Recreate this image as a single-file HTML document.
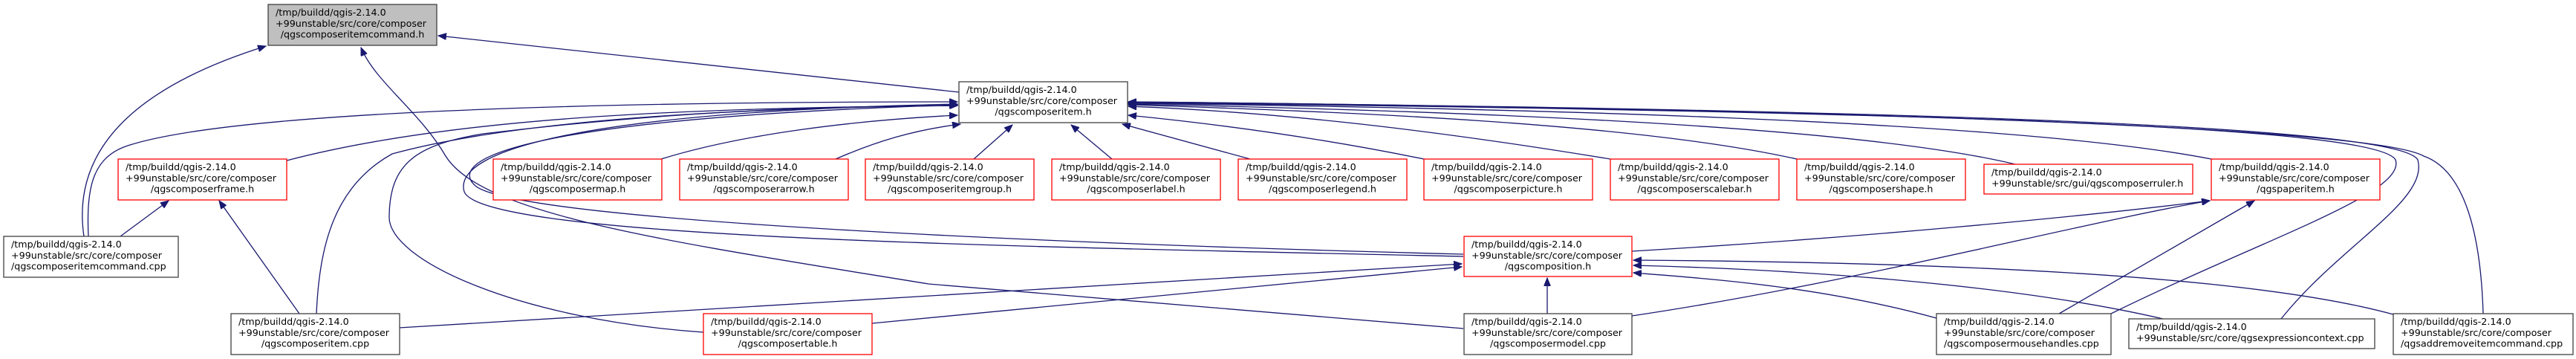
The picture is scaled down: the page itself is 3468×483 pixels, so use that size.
<!DOCTYPE html>
<html><head><meta charset="utf-8"><style>
html,body{margin:0;padding:0;background:#fff;}
svg{display:block;}
text{font-family:"DejaVu Sans","Liberation Sans",sans-serif;font-size:12.7px;fill:#000;}
.e{fill:none;stroke:#191970;stroke-width:1.3;marker-end:url(#a);}
.nb{fill:#fff;stroke:#404040;stroke-width:1.3;}
.nr{fill:#fff;stroke:#ff0000;stroke-width:1.3;}
.ng{fill:#bfbfbf;stroke:#404040;stroke-width:1.3;}
</style></head><body>
<svg width="3468" height="483" viewBox="0 0 3468 483" xmlns="http://www.w3.org/2000/svg">
<defs><marker id="a" markerUnits="userSpaceOnUse" markerWidth="12" markerHeight="9" refX="11" refY="4.5" orient="auto"><path d="M0,0 L11,4.5 L0,9 z" fill="#191970" stroke="#191970"/></marker></defs>

<!-- edges -->
<path class="e" d="M113,318 C100,230 140,130 358,62"/>
<path class="e" d="M1291,124 L590,48"/>
<path class="e" d="M1970,442 L1250,382 C900,325 650,290 600,210 C565,150 505,110 486,64"/>
<path class="e" d="M119,318 C116,250 125,210 175,195 C320,150 800,137 1289,137"/>
<path class="e" d="M386,216 C600,160 900,145 1289,142"/>
<path class="e" d="M890,214 C1000,180 1150,162 1289,155"/>
<path class="e" d="M1125,214 C1180,190 1230,175 1293,167"/>
<path class="e" d="M426,422 C430,330 450,250 528,207 C700,160 1000,145 1289,142"/>
<path class="e" d="M947,447 C700,430 520,350 524,290 C525,220 560,195 650,180 C900,150 1100,143 1289,142"/>
<path class="e" d="M1970,342 C1500,330 700,300 640,250 C600,215 700,160 1289,141"/>
<path class="e" d="M1970,345 C1400,332 650,322 625,258 C608,200 800,150 1289,140"/>
<path class="e" d="M1311,214 L1363,168"/>
<path class="e" d="M1497,214 L1442,168"/>
<path class="e" d="M1683,214 L1511,167"/>
<path class="e" d="M1917,214 C1750,180 1600,163 1519,155"/>
<path class="e" d="M2168,214 C1900,170 1700,150 1519,143"/>
<path class="e" d="M2419,214 C2200,165 1800,150 1519,141"/>
<path class="e" d="M2713,221 C2500,170 2000,150 1519,140"/>
<path class="e" d="M2977,214 C2700,160 2000,145 1519,139"/>
<path class="e" d="M2842,422 C3050,320 3240,260 3225,215 C3200,170 2600,150 1519,138"/>
<path class="e" d="M3071,429 C3150,330 3270,270 3255,215 C3230,170 2600,148 1519,137"/>
<path class="e" d="M3343,422 C3340,320 3320,230 3263,210 C3200,175 2600,148 1519,137"/>
<path class="e" d="M537,441 L1968,355"/>
<path class="e" d="M1174,435 L1968,359"/>
<path class="e" d="M2083,422 L2083,374"/>
<path class="e" d="M2607,428 C2450,385 2300,375 2199,367"/>
<path class="e" d="M2912,429 C2700,380 2400,362 2199,357"/>
<path class="e" d="M3222,423 C3000,362 2500,352 2199,350"/>
<path class="e" d="M2197,338 C2500,320 2800,292 2975,270"/>
<path class="e" d="M2197,425 C2500,380 2800,300 2975,270"/>
<path class="e" d="M2772,422 L3035,270"/>
<path class="e" d="M162,318 L227,270"/>
<path class="e" d="M403,422 L295,270"/>

<!-- nodes -->
<g>
<rect class="ng" x="361" y="6" width="227" height="55"/>
<text x="371" y="21">/tmp/buildd/qgis-2.14.0</text><text x="371" y="36">+99unstable/src/core/composer</text><text x="474.5" y="50.5" text-anchor="middle">/qgscomposeritemcommand.h</text>

<rect class="nb" x="1291" y="110" width="227" height="55"/>
<text x="1301" y="125">/tmp/buildd/qgis-2.14.0</text><text x="1301" y="140">+99unstable/src/core/composer</text><text x="1404.5" y="154.5" text-anchor="middle">/qgscomposeritem.h</text>

<rect class="nr" x="159" y="214" width="227" height="55"/>
<text x="169" y="229">/tmp/buildd/qgis-2.14.0</text><text x="169" y="244">+99unstable/src/core/composer</text><text x="272.5" y="258.5" text-anchor="middle">/qgscomposerframe.h</text>

<rect class="nr" x="664" y="214" width="227" height="55"/>
<text x="674" y="229">/tmp/buildd/qgis-2.14.0</text><text x="674" y="244">+99unstable/src/core/composer</text><text x="777.5" y="258.5" text-anchor="middle">/qgscomposermap.h</text>

<rect class="nr" x="915" y="214" width="227" height="55"/>
<text x="925" y="229">/tmp/buildd/qgis-2.14.0</text><text x="925" y="244">+99unstable/src/core/composer</text><text x="1028.5" y="258.5" text-anchor="middle">/qgscomposerarrow.h</text>

<rect class="nr" x="1165" y="214" width="227" height="55"/>
<text x="1175" y="229">/tmp/buildd/qgis-2.14.0</text><text x="1175" y="244">+99unstable/src/core/composer</text><text x="1278.5" y="258.5" text-anchor="middle">/qgscomposeritemgroup.h</text>

<rect class="nr" x="1416" y="214" width="227" height="55"/>
<text x="1426" y="229">/tmp/buildd/qgis-2.14.0</text><text x="1426" y="244">+99unstable/src/core/composer</text><text x="1529.5" y="258.5" text-anchor="middle">/qgscomposerlabel.h</text>

<rect class="nr" x="1667" y="214" width="227" height="55"/>
<text x="1677" y="229">/tmp/buildd/qgis-2.14.0</text><text x="1677" y="244">+99unstable/src/core/composer</text><text x="1780.5" y="258.5" text-anchor="middle">/qgscomposerlegend.h</text>

<rect class="nr" x="1917" y="214" width="227" height="55"/>
<text x="1927" y="229">/tmp/buildd/qgis-2.14.0</text><text x="1927" y="244">+99unstable/src/core/composer</text><text x="2030.5" y="258.5" text-anchor="middle">/qgscomposerpicture.h</text>

<rect class="nr" x="2168" y="214" width="227" height="55"/>
<text x="2178" y="229">/tmp/buildd/qgis-2.14.0</text><text x="2178" y="244">+99unstable/src/core/composer</text><text x="2281.5" y="258.5" text-anchor="middle">/qgscomposerscalebar.h</text>

<rect class="nr" x="2419" y="214" width="227" height="55"/>
<text x="2429" y="229">/tmp/buildd/qgis-2.14.0</text><text x="2429" y="244">+99unstable/src/core/composer</text><text x="2532.5" y="258.5" text-anchor="middle">/qgscomposershape.h</text>

<rect class="nr" x="2671" y="221" width="281" height="40"/>
<text x="2681" y="236">/tmp/buildd/qgis-2.14.0</text><text x="2681" y="251">+99unstable/src/gui/qgscomposerruler.h</text>

<rect class="nr" x="2977" y="214" width="227" height="55"/>
<text x="2987" y="229">/tmp/buildd/qgis-2.14.0</text><text x="2987" y="244">+99unstable/src/core/composer</text><text x="3090.5" y="258.5" text-anchor="middle">/qgspaperitem.h</text>

<rect class="nb" x="5" y="318" width="235" height="55"/>
<text x="15" y="333">/tmp/buildd/qgis-2.14.0</text><text x="15" y="348">+99unstable/src/core/composer</text><text x="15" y="362.5">/qgscomposeritemcommand.cpp</text>

<rect class="nr" x="1971" y="318" width="226" height="54"/>
<text x="1981" y="333">/tmp/buildd/qgis-2.14.0</text><text x="1981" y="348">+99unstable/src/core/composer</text><text x="2084" y="362.5" text-anchor="middle">/qgscomposition.h</text>

<rect class="nb" x="311" y="422" width="227" height="55"/>
<text x="321" y="437">/tmp/buildd/qgis-2.14.0</text><text x="321" y="452">+99unstable/src/core/composer</text><text x="424.5" y="466.5" text-anchor="middle">/qgscomposeritem.cpp</text>

<rect class="nr" x="947" y="422" width="227" height="55"/>
<text x="957" y="437">/tmp/buildd/qgis-2.14.0</text><text x="957" y="452">+99unstable/src/core/composer</text><text x="1060.5" y="466.5" text-anchor="middle">/qgscomposertable.h</text>

<rect class="nb" x="1971" y="422" width="226" height="55"/>
<text x="1981" y="437">/tmp/buildd/qgis-2.14.0</text><text x="1981" y="452">+99unstable/src/core/composer</text><text x="2084" y="466.5" text-anchor="middle">/qgscomposermodel.cpp</text>

<rect class="nb" x="2607" y="422" width="235" height="55"/>
<text x="2617" y="437">/tmp/buildd/qgis-2.14.0</text><text x="2617" y="452">+99unstable/src/core/composer</text><text x="2617" y="466.5">/qgscomposermousehandles.cpp</text>

<rect class="nb" x="2866" y="429" width="331" height="40"/>
<text x="2876" y="444">/tmp/buildd/qgis-2.14.0</text><text x="2876" y="459">+99unstable/src/core/qgsexpressioncontext.cpp</text>

<rect class="nb" x="3222" y="422" width="242" height="55"/>
<text x="3232" y="437">/tmp/buildd/qgis-2.14.0</text><text x="3232" y="452">+99unstable/src/core/composer</text><text x="3232" y="466.5">/qgsaddremoveitemcommand.cpp</text>
</g>
</svg>
</body></html>
